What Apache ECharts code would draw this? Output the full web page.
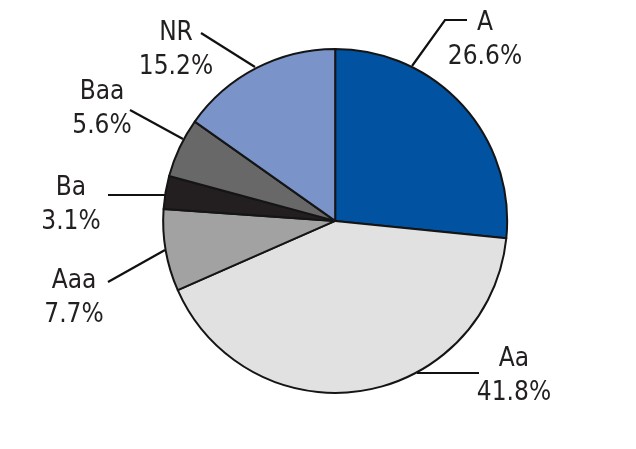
<!DOCTYPE html>
<html>
<head>
<meta charset="utf-8">
<script src="https://cdn.jsdelivr.net/npm/echarts@6/dist/echarts.min.js"></script>
<style>
html,body{margin:0;padding:0;background:#fff;}
#chart{width:636px;height:449px;}
</style>
</head>
<body>
<div id="chart"></div>
<script>
// Data
const categories = ['A', 'Aa', 'Aaa', 'Ba', 'Baa', 'NR'];
const shares = [26.6, 41.8, 7.7, 3.1, 5.6, 15.2];

// Styles
const sliceColors = ['#0152A0', '#E1E1E1', '#A2A2A2', '#231F20', '#686868', '#7A93C8'];

// Label placement (annotation layout: text centre + leader line points)
const labelLayouts = {
  'A':   { x: 485, y: 40,  line: [[412, 66], [445, 20], [467, 20]] },
  'Aa':  { x: 514, y: 376, line: [[417, 373], [479, 373]] },
  'Aaa': { x: 74,  y: 298, line: [[165, 250], [108, 282]] },
  'Ba':  { x: 71,  y: 205, line: [[165, 195], [108, 195]] },
  'Baa': { x: 102, y: 109, line: [[183, 139], [130, 110]] },
  'NR':  { x: 176, y: 50,  line: [[255, 67], [201, 33]] }
};

const chart = echarts.init(document.getElementById('chart'), null, { renderer: 'canvas' });

chart.setOption({
  animation: false,
  backgroundColor: '#ffffff',
  series: [{
    type: 'pie',
    center: ['52.7%', '49.2%'],
    radius: 172,
    startAngle: 90,
    clockwise: true,
    data: categories.map((c, i) => ({
      name: c,
      value: shares[i],
      itemStyle: { color: sliceColors[i] }
    })),
    itemStyle: { borderColor: '#151515', borderWidth: 2 },
    emphasis: { disabled: true },
    label: {
      show: true,
      position: 'outside',
      formatter: p => p.name + '\n' + p.value.toFixed(1) + '%',
      fontFamily: '"Liberation Sans Narrow", "DejaVu Sans Condensed", sans-serif',
      fontSize: 26,
      lineHeight: 34,
      color: '#231F20',
      align: 'center'
    },
    labelLine: {
      show: true,
      length: 20,
      length2: 20,
      smooth: false,
      lineStyle: { color: '#111', width: 2.2 }
    },
    labelLayout: function (params) {
      const name = categories[params.dataIndex];
      const L = labelLayouts[name];
      return {
        x: L.x,
        y: L.y,
        align: 'center',
        verticalAlign: 'middle',
        labelLinePoints: L.line
      };
    }
  }]
});
</script>
</body>
</html>
